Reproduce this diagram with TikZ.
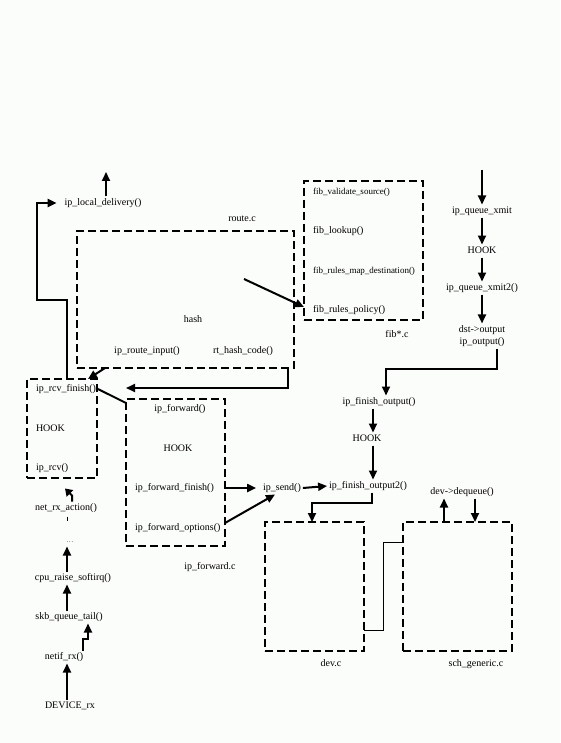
\documentclass[tikz,border=0pt]{standalone}
\usepackage{fontspec}
\setmainfont{Liberation Serif}
\usetikzlibrary{arrows.meta,calc}
\definecolor{bg}{RGB}{251,253,250}
\begin{document}
\begin{tikzpicture}[x=1pt,y=-1pt,
  txt/.style={inner sep=2pt,outer sep=0pt,text height=7pt,text depth=2pt,font=\fontsize{10}{12}\selectfont},
  small/.style={font=\fontsize{9}{11}\selectfont},
  dbox/.style={draw,line width=2.2pt,dash pattern=on 8pt off 4pt,inner sep=0pt,outer sep=0pt},
  arr/.style={line width=2pt,-{Triangle[length=9pt,width=8pt]}},
  ln/.style={line width=2pt},
  thin/.style={line width=1pt}]
\fill[bg] (0,0) rectangle (560,743);
\useasboundingbox (0,0) rectangle (560,743);

% boxes
\node[dbox,minimum width=217pt,minimum height=137pt] (route) at (185.5,299.5) {};
\node[dbox,minimum width=119pt,minimum height=139pt] (fib) at (363.5,250.5) {};
\node[dbox,minimum width=70pt,minimum height=99pt] (rcv) at (62,428.5) {};
\node[dbox,minimum width=99pt,minimum height=147pt] (fwd) at (175.5,472.5) {};
\node[dbox,minimum width=99pt,minimum height=129pt] (dev) at (314.5,586.5) {};
\node[dbox,minimum width=109pt,minimum height=129pt] (sch) at (457.5,586.5) {};

% texts
\node[txt] (ld) at (103,203) {ip\_local\_delivery()};
\node[txt] (routec) at (242,219) {route.c};
\node[txt] (hash) at (193,320) {hash};
\node[txt] (rin) at (147,351) {ip\_route\_input()};
\node[txt] (rth) at (243,351) {rt\_hash\_code()};
\node[txt,small,anchor=west] (fvs) at (311,192) {fib\_validate\_source()};
\node[txt,anchor=west] (flk) at (311,231) {fib\_lookup()};
\node[txt,small,anchor=west] (frm) at (311,271) {fib\_rules\_map\_destination()};
\node[txt,anchor=west] (frp) at (311,310) {fib\_rules\_policy()};
\node[txt] (fibc) at (397,335) {fib*.c};
\node[txt] (qx) at (482,211) {ip\_queue\_xmit};
\node[txt] (h1) at (482,251) {HOOK};
\node[txt] (qx2) at (482,288) {ip\_queue\_xmit2()};
\node[txt,align=center,text height=,text depth=] (dst) at (482,336) {dst->output\\ip\_output()};
\node[txt] (fo) at (379,402) {ip\_finish\_output()};
\node[txt] (h2) at (367,439) {HOOK};
\node[txt] (fo2) at (368,486) {ip\_finish\_output2()};
\node[txt] (send) at (282,488) {ip\_send()};
\node[txt] (deq) at (462,492) {dev->dequeue()};
\node[txt] (devc) at (331,664) {dev.c};
\node[txt] (schc) at (476,664) {sch\_generic.c};
\node[txt,anchor=west] (rcvfin) at (34,389) {ip\_rcv\_finish()};
\node[txt,anchor=west] (rcvhook) at (34,429) {HOOK};
\node[txt,anchor=west] (rcvf) at (34,468) {ip\_rcv()};
\node[txt] (ipf) at (180,409) {ip\_forward()};
\node[txt] (fhook) at (178,449) {HOOK};
\node[txt,anchor=west] (ffin) at (133,488) {ip\_forward\_finish()};
\node[txt,anchor=west] (fopt) at (133,528) {ip\_forward\_options()};
\node[txt] (fwdc) at (210,567) {ip\_forward.c};
\node[txt] (nra) at (66,508) {net\_rx\_action()};
\node[txt] (dots) at (70,540) {\fontsize{6}{7}\selectfont .\,.\,.};
\node[txt] (crs) at (73,578) {cpu\_raise\_softirq()};
\node[txt] (sqt) at (69,617) {skb\_queue\_tail()};
\node[txt] (nrx) at (64,657) {netif\_rx()};
\node[txt] (drx) at (70,706) {DEVICE\_rx};

% free ends
\coordinate (ldtop) at (106,172);
\coordinate (rstart) at (244,279);
\coordinate (qtop) at (482,170);

% connectors
\draw[arr] ([xshift=3pt]ld.north) -- (ldtop);
\draw[arr] ([xshift=5pt]rcv.north) -- ++(0,-79) -- ++(-30,0) |- ([xshift=-6pt]ld.west);
\draw[arr] (rstart) -- (fib.west |- 0,307);
\draw[arr] ([xshift=28pt]route.south west) -- ([xshift=-9pt]rcv.north east);
\draw[arr] ([xshift=-6pt]route.south east) -- ++(0,20) -- ([yshift=11pt]fwd.north west);
\draw[ln] (rcvfin.east) -- ([yshift=-4pt]fwd.north west);

\draw[arr] (qtop) -- (qx.north);
\draw[arr] (qx.south) -- (h1.north);
\draw[arr] (h1.south) -- (qx2.north);
\draw[arr] (qx2.south) -- (dst.north);
\draw[arr] ([xshift=15pt]dst.south) -- ++(0,20) -| ([xshift=7pt]fo.north);
\draw[arr] ([xshift=-6pt]fo.south) -- ([xshift=6pt]h2.north);
\draw[arr] ([xshift=6pt]h2.south) -- ([xshift=5pt]fo2.north);
\draw[arr] ([xshift=4pt]fo2.south) -- ++(0,10) -| ([xshift=-2.5pt]dev.north);
\draw[arr] (send.east) -- (fo2.west);
\draw[arr,shorten >=5pt] (fwd.east |- ffin) -- (send.west);
\draw[arr] (fwd.east |- 0,523) -- ([xshift=-7pt]send.south);
\draw[arr] ([xshift=-13.5pt]sch.north) -- ([xshift=-18pt]deq.south);
\draw[arr] ([xshift=13pt]deq.south) -- ([xshift=17.5pt]sch.north);
\draw[thin] ([yshift=-108pt]dev.north east) -- ++(19,0) |- ([yshift=-20pt]sch.north west);

\draw[arr] ([xshift=-3pt]drx.north) -- ([xshift=3pt]nrx.south);
\draw[arr] ([xshift=19pt]nrx.north) -- ++(0,-12) -- ++(5,0) -- ([xshift=19pt]sqt.south);
\draw[arr] ([xshift=-2pt]sqt.north) -- ([xshift=-6pt]crs.south);
\draw[arr] ([xshift=-6pt]crs.north) -- ([xshift=-3pt]dots.south);
\draw[thin] ([xshift=1pt]nra.south) ++(0,2) -- ++(0,4);
\draw[line width=2pt,-{Triangle[length=7pt,width=9pt]}] ([xshift=6pt]nra.north) -- ++(0,-6) -- ++(-7,-7);
\end{tikzpicture}
\end{document}
